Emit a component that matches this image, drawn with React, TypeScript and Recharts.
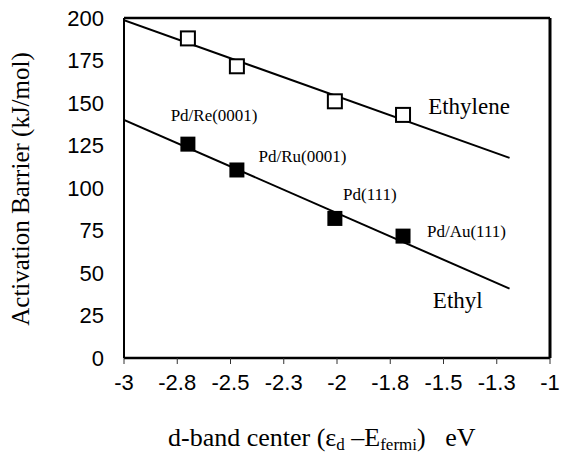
import React from 'react';
import { ComposedChart, XAxis, YAxis, Line, Scatter } from 'recharts';

// d-band centre of each Pd overlayer (eV)
const dBandCenter = [-2.7, -2.47, -2.01, -1.69];
// activation barriers (kJ/mol)
const ethyleneBarrier = [188, 171.6, 151, 143];
const ethylBarrier = [125.8, 110.6, 82.1, 71.7];
const surfaceNames = ['Pd/Re(0001)', 'Pd/Ru(0001)', 'Pd(111)', 'Pd/Au(111)'];
// annotation anchors for the surface names, in data units
const surfaceLabelX = [-2.577, -2.162, -1.846, -1.392];
const surfaceLabelY = [142.8, 118.6, 95.9, 74.3];

// linear trend lines
const fitX = [-3, -1.19];
const ethyleneFit = [198.7, 117.7];
const ethylFit = [140.1, 40.8];

const seriesNames = ['Ethylene', 'Ethyl'];
const seriesLabelX = [-1.38, -1.433];
const seriesLabelY = [147.8, 33.9];

const xTicks = [-3, -2.75, -2.5, -2.25, -2, -1.75, -1.5, -1.25, -1];
const yTicks = [0, 25, 50, 75, 100, 125, 150, 175, 200];

const SERIF = '"Liberation Serif", "Times New Roman", serif';
const SANS = '"Liberation Sans", Arial, sans-serif';
const INK = '#000';

const ethylenePoints = dBandCenter.map((x, i) => ({ x, y: ethyleneBarrier[i] }));
const ethylPoints = dBandCenter.map((x, i) => ({ x, y: ethylBarrier[i] }));
const ethyleneLine = fitX.map((x, i) => ({ x, y: ethyleneFit[i] }));
const ethylLine = fitX.map((x, i) => ({ x, y: ethylFit[i] }));
const surfaceLabels = surfaceNames.map((text, i) => ({ x: surfaceLabelX[i], y: surfaceLabelY[i], text }));
const seriesLabels = seriesNames.map((text, i) => ({ x: seriesLabelX[i], y: seriesLabelY[i], text }));

const OpenSquare = (p: any) => (
  <rect x={p.cx - 7} y={p.cy - 7} width={14} height={14} fill="#fff" stroke="#000" strokeWidth={2} />
);
const FilledSquare = (p: any) => (
  <rect x={p.cx - 7.5} y={p.cy - 7.5} width={15} height={15} fill="#000" />
);
const makeText = (size: number) => (p: any) => (
  <text x={p.cx} y={p.cy} textAnchor="middle" dominantBaseline="central" fontFamily={SERIF} fontSize={size} fill="#000">
    {p.payload.text}
  </text>
);

const fmtX = (v: number) => String(Number(v.toFixed(1)));

const YTitle = (props: any) => {
  const vb = props.viewBox;
  const cx = vb.x + 20;
  const cy = vb.y + vb.height / 2 + 1;
  return (
    <text x={cx} y={cy} transform={`rotate(-90, ${cx}, ${cy})`} textAnchor="middle" dominantBaseline="central" fontFamily={SERIF} fontSize={25} fill="#000">
      Activation Barrier (kJ/mol)
    </text>
  );
};

const XTitle = (props: any) => {
  const vb = props.viewBox;
  const x0 = vb.x + 44;
  return (
    <text x={x0} y={446} textAnchor="start" fontFamily={SERIF} fontSize={26} fill="#000" style={{ whiteSpace: 'pre' }}>
      <tspan>d-band center (ε</tspan>
      <tspan fontSize={17} dy={4}>d</tspan>
      <tspan dy={-4}> –E</tspan>
      <tspan fontSize={17} dy={4}>fermi</tspan>
      <tspan dy={-4}>)   eV</tspan>
    </text>
  );
};

export default function App() {
  return (
    <div style={{ position: 'absolute', left: 0, top: 0, background: '#fff' }}>
      <ComposedChart width={561} height={464} margin={{ top: 17, right: 0, bottom: 0, left: 0 }}>
        <XAxis
          dataKey="x"
          type="number"
          domain={[-3, -1]}
          ticks={xTicks}
          tickFormatter={fmtX}
          interval={0}
          height={106}
          stroke={INK}
          axisLine={{ stroke: INK, strokeWidth: 2.5 }}
          tickLine={{ stroke: '#333', strokeWidth: 1 }}
          tickSize={6}
          tickMargin={10}
          tick={{ fill: '#000', fontFamily: SANS, fontSize: 22 }}
          label={<XTitle />}
          allowDataOverflow
        />
        {/* top edge of the plot frame */}
        <XAxis
          xAxisId="top"
          orientation="top"
          dataKey="x"
          type="number"
          domain={[-3, -1]}
          height={1}
          stroke={INK}
          axisLine={{ stroke: INK, strokeWidth: 2.5 }}
          tickLine={false}
          tick={false}
        />
        <YAxis
          yAxisId="left"
          dataKey="y"
          type="number"
          domain={[0, 200]}
          ticks={yTicks}
          interval={0}
          width={124}
          stroke={INK}
          axisLine={{ stroke: INK, strokeWidth: 2 }}
          tickLine={false}
          tickSize={0}
          tickMargin={20}
          tick={{ fill: '#000', fontFamily: SANS, fontSize: 22 }}
          label={<YTitle />}
        />
        {/* right edge of the frame with outward ticks */}
        <YAxis
          yAxisId="right"
          orientation="right"
          dataKey="y"
          type="number"
          domain={[0, 200]}
          ticks={yTicks}
          interval={0}
          width={11}
          stroke={INK}
          axisLine={{ stroke: INK, strokeWidth: 3 }}
          tickLine={{ stroke: '#333', strokeWidth: 1.5 }}
          tickSize={7}
          tick={{ fill: 'none', fontSize: 1 }}
          tickFormatter={() => ''}
        />
        <Line yAxisId="left" data={ethyleneLine} dataKey="y" stroke="#000" strokeWidth={2} dot={false} isAnimationActive={false} />
        <Line yAxisId="left" data={ethylLine} dataKey="y" stroke="#000" strokeWidth={2} dot={false} isAnimationActive={false} />
        <Scatter yAxisId="left" data={ethylenePoints} dataKey="y" shape={OpenSquare} isAnimationActive={false} />
        <Scatter yAxisId="left" data={ethylPoints} dataKey="y" shape={FilledSquare} isAnimationActive={false} />
        <Scatter yAxisId="left" data={surfaceLabels} dataKey="y" shape={makeText(17)} isAnimationActive={false} />
        <Scatter yAxisId="left" data={seriesLabels} dataKey="y" shape={makeText(23)} isAnimationActive={false} />
      </ComposedChart>
    </div>
  );
}
